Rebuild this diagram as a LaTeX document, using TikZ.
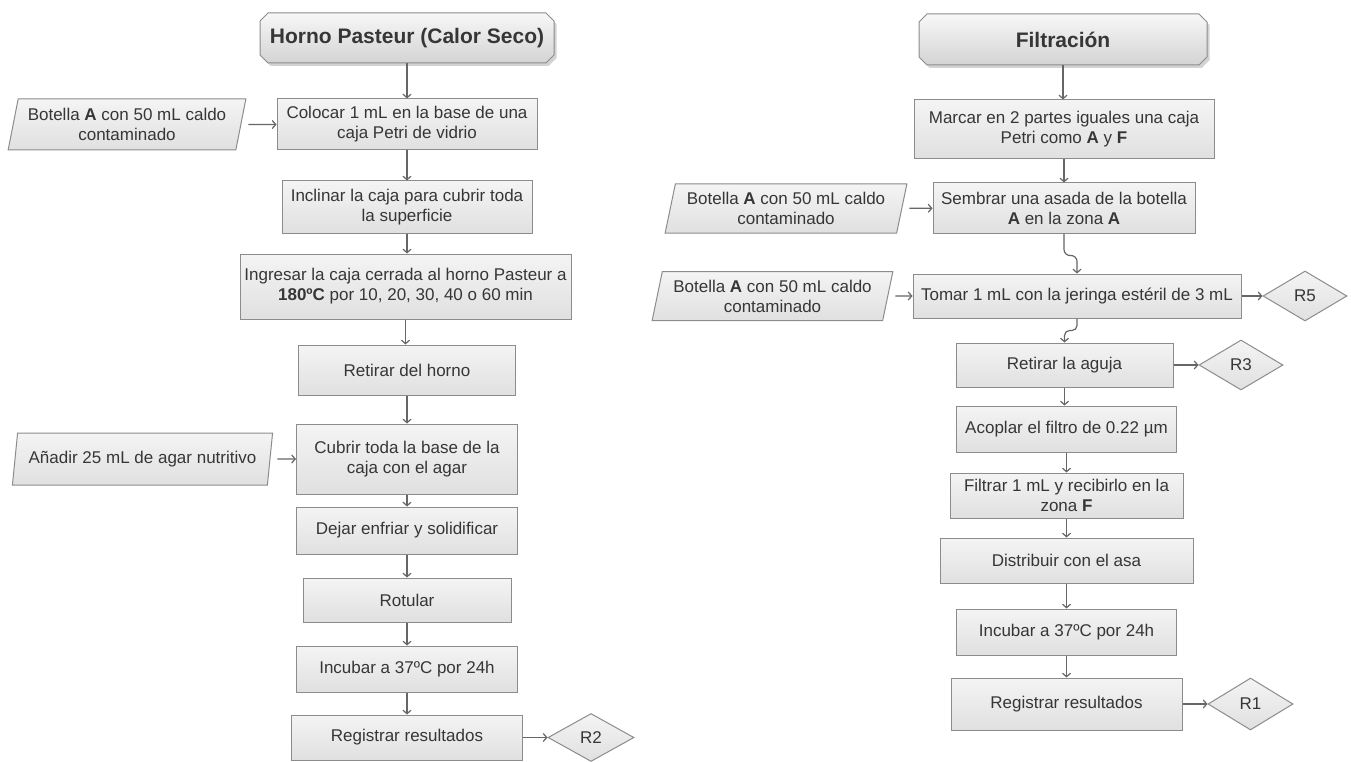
\documentclass[tikz,border=0pt]{standalone}
\usepackage{fontspec}
\setmainfont{Liberation Sans}
\usetikzlibrary{shapes.geometric,shapes.misc,arrows.meta,shadows,calc}

\definecolor{edge}{HTML}{8C8C8C}
\definecolor{ink}{HTML}{363636}
\definecolor{wire}{HTML}{666666}
\definecolor{boxtop}{HTML}{F4F4F4}
\definecolor{boxbot}{HTML}{E0E0E0}

\tikzset{
  base/.style={draw=edge, line width=1pt, top color=boxtop, bottom color=boxbot,
    text=ink, font=\fontsize{17}{20}\selectfont, align=center, inner sep=1pt},
  stepbox/.style={base, rectangle},
  inbox/.style={base, trapezium, trapezium left angle=75, trapezium right angle=105,
    trapezium stretches=true},
  outbox/.style={base, diamond, inner sep=0pt},
  headbox/.style={base, chamfered rectangle, chamfered rectangle xsep=4pt,
    chamfered rectangle ysep=4pt, font=\fontsize{21}{24}\bfseries\selectfont,
    top color=white!97!black, bottom color=black!17,
    drop shadow={shadow xshift=2.5pt, shadow yshift=-3pt, opacity=0.35}},
  link/.style={draw=wire, line width=1.2pt, -{Straight Barb[length=3.5pt,width=8pt]}},
  feed/.style={link, shorten <=7pt},
}

\begin{document}
\begin{tikzpicture}[x=1pt, y=-1pt]
\useasboundingbox (0,0) rectangle (1351,762);

% ---------- Horno Pasteur (left column) ----------
\node[headbox, minimum width=294pt, minimum height=50pt] (hA) at (407,38) {Horno Pasteur (Calor Seco)};
\node[stepbox, minimum width=260pt, minimum height=51pt] (a1) at (407,124.5) {Colocar 1 mL en la base de una\\caja Petri de vidrio};
\node[inbox, minimum width=238pt, minimum height=51pt] (ia1) at (127,124.5) {Botella \textbf{A} con 50 mL caldo\\contaminado};
\node[stepbox, minimum width=250pt, minimum height=52pt] (a2) at (407,207) {Inclinar la caja para cubrir toda\\la superficie};
\node[stepbox, minimum width=331pt, minimum height=65pt] (a3) at (405.5,286.5) {Ingresar la caja cerrada al horno Pasteur a\\\textbf{180ºC} por 10, 20, 30, 40 o 60 min};
\node[stepbox, minimum width=217pt, minimum height=50pt] (a4) at (407,370) {Retirar del horno};
\node[stepbox, minimum width=221pt, minimum height=70pt] (a5) at (407,459) {Cubrir toda la base de la\\caja con el agar};
\node[inbox, minimum width=261pt, minimum height=52pt] (ia2) at (142.5,459) {Añadir 25 mL de agar nutritivo};
\node[stepbox, minimum width=221pt, minimum height=47pt] (a6) at (407,530.5) {Dejar enfriar y solidificar};
\node[stepbox, minimum width=208pt, minimum height=44pt] (a7) at (407,600) {Rotular};
\node[stepbox, minimum width=221pt, minimum height=46pt] (a8) at (407,669) {Incubar a 37ºC por 24h};
\node[stepbox, minimum width=231pt, minimum height=45pt] (a9) at (407,737.5) {Registrar resultados};
\node[outbox, minimum width=86pt, minimum height=48pt] (r2) at (591,737.5) {R2};

\foreach \u/\v in {hA/a1, a1/a2, a2/a3, a3/a4, a4/a5, a5/a6, a6/a7, a7/a8, a8/a9}
  \draw[link] (\u.south) -- (\u.south |- \v.north);
\draw[feed] (ia1) -- (a1);
\draw[feed] (ia2) -- (a5);
\draw[link] (a9.east) -- (a9.east -| r2.west);

% ---------- Filtracion (right column) ----------
\node[headbox, minimum width=288pt, minimum height=51pt] (hB) at (1063,39.5) {Filtración};
\node[stepbox, minimum width=300pt, minimum height=59pt] (b1) at (1064,129.5) {Marcar en 2 partes iguales una caja\\Petri como \textbf{A} y \textbf{F}};
\node[inbox, minimum width=242pt, minimum height=49pt] (ib1) at (786,208.5) {Botella \textbf{A} con 50 mL caldo\\contaminado};
\node[stepbox, minimum width=262pt, minimum height=50pt] (b2) at (1064,208) {Sembrar una asada de la botella\\\textbf{A} en la zona \textbf{A}};
\node[inbox, minimum width=241pt, minimum height=49pt] (ib2) at (772.5,296) {Botella \textbf{A} con 50 mL caldo\\contaminado};
\node[stepbox, minimum width=328pt, minimum height=44pt] (b3) at (1077,296) {Tomar 1 mL con la jeringa estéril de 3 mL};
\node[outbox, minimum width=84pt, minimum height=50pt] (r5) at (1305,296) {R5};
\node[stepbox, minimum width=217pt, minimum height=44pt] (b4) at (1064.5,365) {Retirar la aguja};
\node[outbox, minimum width=84pt, minimum height=50pt] (r3) at (1241,365) {R3};
\node[stepbox, minimum width=220pt, minimum height=46pt] (b5) at (1066.5,429) {Acoplar el filtro de 0.22 µm};
\node[stepbox, minimum width=233pt, minimum height=45pt] (b6) at (1066.5,495.5) {Filtrar 1 mL y recibirlo en la\\zona \textbf{F}};
\node[stepbox, minimum width=253pt, minimum height=45pt] (b7) at (1066.5,560.5) {Distribuir con el asa};
\node[stepbox, minimum width=220pt, minimum height=46pt] (b8) at (1066.5,632) {Incubar a 37ºC por 24h};
\node[stepbox, minimum width=231pt, minimum height=52pt] (b9) at (1066.5,704) {Registrar resultados};
\node[outbox, minimum width=85pt, minimum height=52pt] (r1) at (1250.5,704) {R1};

\foreach \u/\v in {hB/b1, b1/b2, b4/b5, b5/b6, b6/b7, b7/b8, b8/b9}
  \draw[link] (\u.south) -- (\u.south |- \v.north);
\draw[link, rounded corners=6pt] (b2.south) -- ++(0,22) -| (b3.north);
\draw[link, rounded corners=5pt] (b3.south) -- ++(0,12) -| (b4.north);
\draw[feed] (ib1) -- (b2);
\draw[feed] (ib2) -- (b3);
\draw[link] (b3) -- (r5);
\draw[link] (b4) -- (r3);
\draw[link] (b9) -- (r1);
\end{tikzpicture}
\end{document}
